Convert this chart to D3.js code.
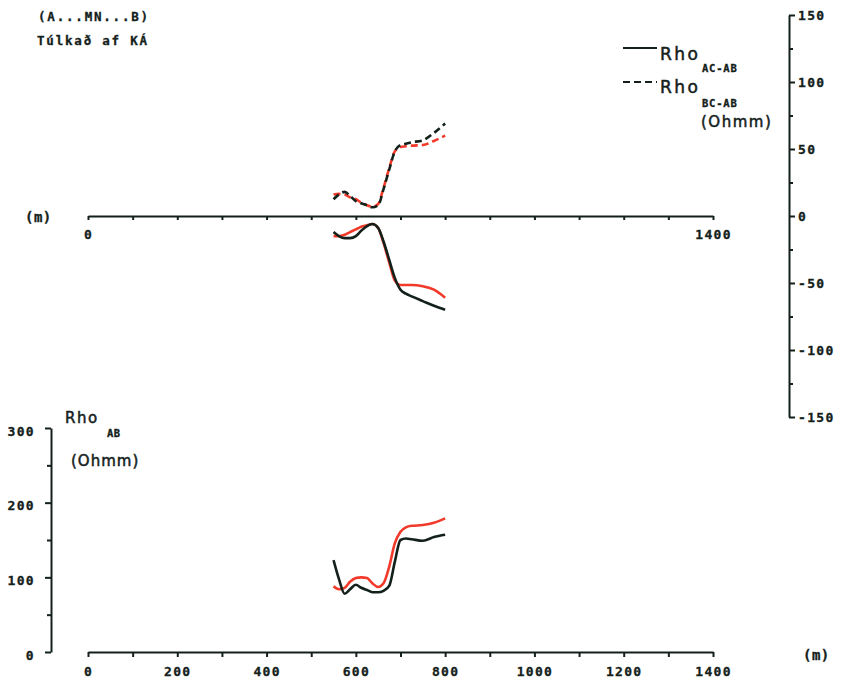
<!DOCTYPE html>
<html><head><meta charset="utf-8">
<script src="https://cdn.jsdelivr.net/npm/d3@7"></script>
<style>
body{margin:0;background:#fff;}
svg{display:block;}
.mono{font-family:"DejaVu Sans Mono",monospace;font-weight:bold;fill:#14211b;}
.sans{font-family:"DejaVu Sans",sans-serif;fill:#14211b;stroke:#14211b;stroke-width:0.5px;}
</style></head><body>
<svg id="c" width="843" height="683"></svg>
<script>
// ---- data ----
const stations = [550, 562, 575, 587, 600, 612, 625, 637, 650, 662, 675, 687, 700, 712, 725, 750, 775, 800];
const rhoBcAbBlack = [12.5, 16, 18, 15, 11, 9.5, 8, 6.5, 8, 20, 35, 48, 53, 54, 55, 56.5, 62, 69];
const rhoBcAbRed   = [16, 16.5, 16, 14, 12.5, 10, 8, 7, 9, 21, 36, 48, 51.5, 52, 52.5, 53, 56, 60];
const rhoAcAbBlack = [-12, -15, -16.5, -16.5, -15, -11, -7.5, -6, -9, -19, -33, -46, -55, -58, -60, -63.5, -67, -70];
const rhoAcAbRed   = [-15, -15, -14, -12, -10, -8, -7, -6, -9, -20, -35, -48, -51.5, -51.5, -51.5, -52.5, -55, -61];
const rhoAbBlack   = [123, 98, 78, 84, 90, 86, 83, 80, 80, 82, 89, 120, 150, 152, 151, 149, 154, 157];
const rhoAbRed     = [88, 84, 86, 94, 99, 100, 99, 92, 87, 92, 115, 145, 161, 167, 169, 170, 173, 179];
const xTicks = d3.range(0, 1401, 100);
const xTopLabels = [0, 1400];
const xBotLabels = [0, 200, 400, 600, 800, 1000, 1200, 1400];
const rightTicks = d3.range(-150, 151, 25);
const rightLabels = [-150, -100, -50, 0, 50, 100, 150];
const leftTicks = d3.range(0, 301, 50);
const leftLabels = [0, 100, 200, 300];

const BLACK = "#14211b", RED = "#f23a2b";
const svg = d3.select("#c");
svg.append("rect").attr("width", 843).attr("height", 683).attr("fill", "#fff");

const x = d3.scaleLinear().domain([0, 1400]).range([88, 713]);
const yTop = d3.scaleLinear().domain([-150, 150]).range([417, 15]);
const yBot = d3.scaleLinear().domain([0, 300]).range([652, 428]);

function styleAxis(g) {
  g.select(".domain").attr("stroke", BLACK).attr("stroke-width", 2);
  g.selectAll(".tick line").attr("stroke", BLACK).attr("stroke-width", 2);
  g.selectAll(".tick text").attr("class", "mono").attr("font-size", 13)
    .attr("letter-spacing", 1.3).attr("fill", BLACK)
    .attr("stroke", BLACK).attr("stroke-width", 0.3);
}

// top horizontal axis
const gTopX = svg.append("g").attr("transform", `translate(0,${yTop(0)})`)
  .call(d3.axisBottom(x).tickValues(xTicks).tickSize(4).tickSizeOuter(0).tickPadding(10)
    .tickFormat(d => xTopLabels.includes(d) ? d : ""));
styleAxis(gTopX);

// right axis
const gR = svg.append("g").attr("transform", "translate(789,0)")
  .call(d3.axisRight(yTop).tickValues(rightTicks).tickSizeOuter(0).tickPadding(3)
    .tickFormat(d => rightLabels.includes(d) ? d : ""));
gR.selectAll(".tick line").attr("x2", d => rightLabels.includes(d) ? 6 : 4);
styleAxis(gR);
gR.selectAll(".tick text").text(d => rightLabels.includes(d) ? String(d) : "");

// bottom chart axes
const gBX = svg.append("g").attr("transform", `translate(0,${yBot(0)})`)
  .call(d3.axisBottom(x).tickValues(xTicks).tickSize(5).tickSizeOuter(0).tickPadding(10)
    .tickFormat(d => xBotLabels.includes(d) ? d : ""));
styleAxis(gBX);

const gL = svg.append("g").attr("transform", "translate(51,0)")
  .call(d3.axisLeft(yBot).tickValues(leftTicks).tickSizeOuter(0).tickPadding(10)
    .tickFormat(d => leftLabels.includes(d) ? d : ""));
gL.selectAll(".tick line").attr("x2", d => leftLabels.includes(d) ? -6 : -4);
styleAxis(gL);
gL.selectAll(".tick text").attr("dy", "0.55em");

// lines
const lineTop = d3.line().x((d, i) => x(stations[i])).y(d => yTop(d)).curve(d3.curveMonotoneX);
const lineBot = d3.line().x((d, i) => x(stations[i])).y(d => yBot(d)).curve(d3.curveMonotoneX);
function draw(gen, data, color, dashed) {
  svg.append("path").attr("d", gen(data)).attr("fill", "none").attr("stroke", color)
    .attr("stroke-width", 2.6).attr("stroke-linejoin", "round")
    .attr("stroke-dasharray", dashed ? "7,4" : null);
}
draw(lineTop, rhoBcAbRed, RED, true);
draw(lineTop, rhoBcAbBlack, BLACK, true);
draw(lineTop, rhoAcAbRed, RED, false);
draw(lineTop, rhoAcAbBlack, BLACK, false);
draw(lineBot, rhoAbRed, RED, false);
draw(lineBot, rhoAbBlack, BLACK, false);

// texts
function txt(xp, yp, s, cls, size, ls) {
  return svg.append("text").attr("x", xp).attr("y", yp).attr("class", cls)
    .attr("font-size", size).attr("letter-spacing", ls).text(s);
}
txt(38, 21, "(A...MN...B)", "mono", 12.5, 1.8).attr("stroke", BLACK).attr("stroke-width", 0.3);
txt(37, 45, "Túlkað af KÁ", "mono", 12.5, 1.8).attr("stroke", BLACK).attr("stroke-width", 0.3);
txt(25, 222, "(m)", "mono", 14, 0.5).attr("stroke", BLACK).attr("stroke-width", 0.3);
txt(803, 660, "(m)", "mono", 14, 0.5).attr("stroke", BLACK).attr("stroke-width", 0.3);

// legend
svg.append("line").attr("x1", 623).attr("x2", 657).attr("y1", 48).attr("y2", 48)
  .attr("stroke", BLACK).attr("stroke-width", 2.2);
svg.append("line").attr("x1", 623).attr("x2", 657).attr("y1", 82).attr("y2", 82)
  .attr("stroke", BLACK).attr("stroke-width", 2.2).attr("stroke-dasharray", "7,4");
txt(660, 60, "Rho", "sans", 17, 2.5);
txt(702, 72, "AC-AB", "mono", 10.5, 0.8).attr("stroke", BLACK).attr("stroke-width", 0.3);
txt(660, 93, "Rho", "sans", 17, 2.5);
txt(702, 107, "BC-AB", "mono", 10.5, 0.8).attr("stroke", BLACK).attr("stroke-width", 0.3);
txt(701, 127, "(Ohmm)", "sans", 15, 1.5);

txt(65, 423, "Rho", "sans", 15, 1.5);
txt(107, 437, "AB", "mono", 10.5, 0.5).attr("stroke", BLACK).attr("stroke-width", 0.3);
txt(71, 466, "(Ohmm)", "sans", 15, 1);
</script>
</body></html>
